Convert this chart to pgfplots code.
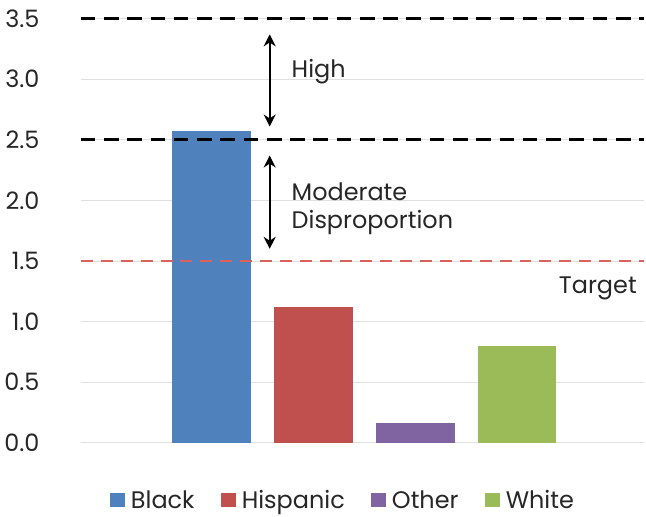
\documentclass[border=0pt]{standalone}
\usepackage{pgfplots}
\pgfplotsset{compat=1.18}
\usepackage{fontspec}
\setmainfont{Poppins}
\usetikzlibrary{arrows.meta}
\definecolor{cBlack}{HTML}{4F81BD}
\definecolor{cHisp}{HTML}{C0504D}
\definecolor{cOther}{HTML}{8064A2}
\definecolor{cWhite}{HTML}{9BBB59}
\definecolor{txt}{HTML}{262626}
\definecolor{tgt}{HTML}{DB615D}
\begin{document}
\begin{tikzpicture}[font=\fontsize{18}{21}\selectfont, text=txt]
\begin{axis}[
  scale only axis,
  width=424pt, height=319pt,
  xmin=-1.285, xmax=4.25,
  ymin=0, ymax=3.5,
  ytick={0,0.5,...,3.5},
  xtick=\empty,
  axis line style={draw=none},
  major tick length=0,
  ymajorgrids,
  grid style={color=black!12, line width=0.6pt},
  /pgf/number format/assume math mode=true,
  yticklabel style={/pgf/number format/fixed,/pgf/number format/fixed zerofill,/pgf/number format/precision=1, xshift=-27.5pt},
  ybar, bar width=0.77, bar shift=0pt,
  clip=false,
  legend columns=4,
  legend style={draw=none, inner ysep=1pt, at={(axis description cs:0.466,-0.1)}, anchor=north, font=\fontsize{18}{21}\selectfont,
    nodes={inner ysep=3pt},
    /tikz/every even column/.append style={column sep=18pt},
    /tikz/every odd column/.append style={column sep=2.5pt}},
  legend image code/.code={\fill[#1] (0pt,-5pt) rectangle (11pt,6pt);},
]
\addplot[fill=cBlack, draw=none] coordinates {(0,2.57)};
\addplot[fill=cHisp, draw=none] coordinates {(1,1.12)};
\addplot[fill=cOther, draw=none] coordinates {(2,0.16)};
\addplot[fill=cWhite, draw=none] coordinates {(3,0.80)};
\legend{Black,Hispanic,Other,White}
\addplot[sharp plot, forget plot, black, line width=2.3pt, dash pattern=on 11pt off 6.5pt] coordinates {(-1.285,3.5) (4.25,3.5)};
\addplot[sharp plot, forget plot, black, line width=2.3pt, dash pattern=on 11pt off 6.5pt] coordinates {(-1.285,2.5) (4.25,2.5)};
\addplot[sharp plot, forget plot, tgt, line width=2pt, dash pattern=on 9pt off 6pt] coordinates {(-1.285,1.5) (4.25,1.5)};
\draw[{Stealth[length=9pt,width=9pt]}-{Stealth[length=9pt,width=9pt]}, line width=1.7pt, black] (axis cs:0.57,3.37) -- (axis cs:0.57,2.61);
\draw[{Stealth[length=9pt,width=9pt]}-{Stealth[length=9pt,width=9pt]}, line width=1.7pt, black] (axis cs:0.57,2.37) -- (axis cs:0.57,1.60);
\node[anchor=west, text=txt] at (axis cs:0.74,3.06) {High};
\node[anchor=west, text=txt, align=left] at (axis cs:0.74,1.93) {Moderate\\Disproportion};
\node[anchor=east, text=txt] at (axis cs:4.22,1.27) {Target};
\path (rel axis cs:0,1) ++(0,14pt);
\end{axis}
\end{tikzpicture}
\end{document}
